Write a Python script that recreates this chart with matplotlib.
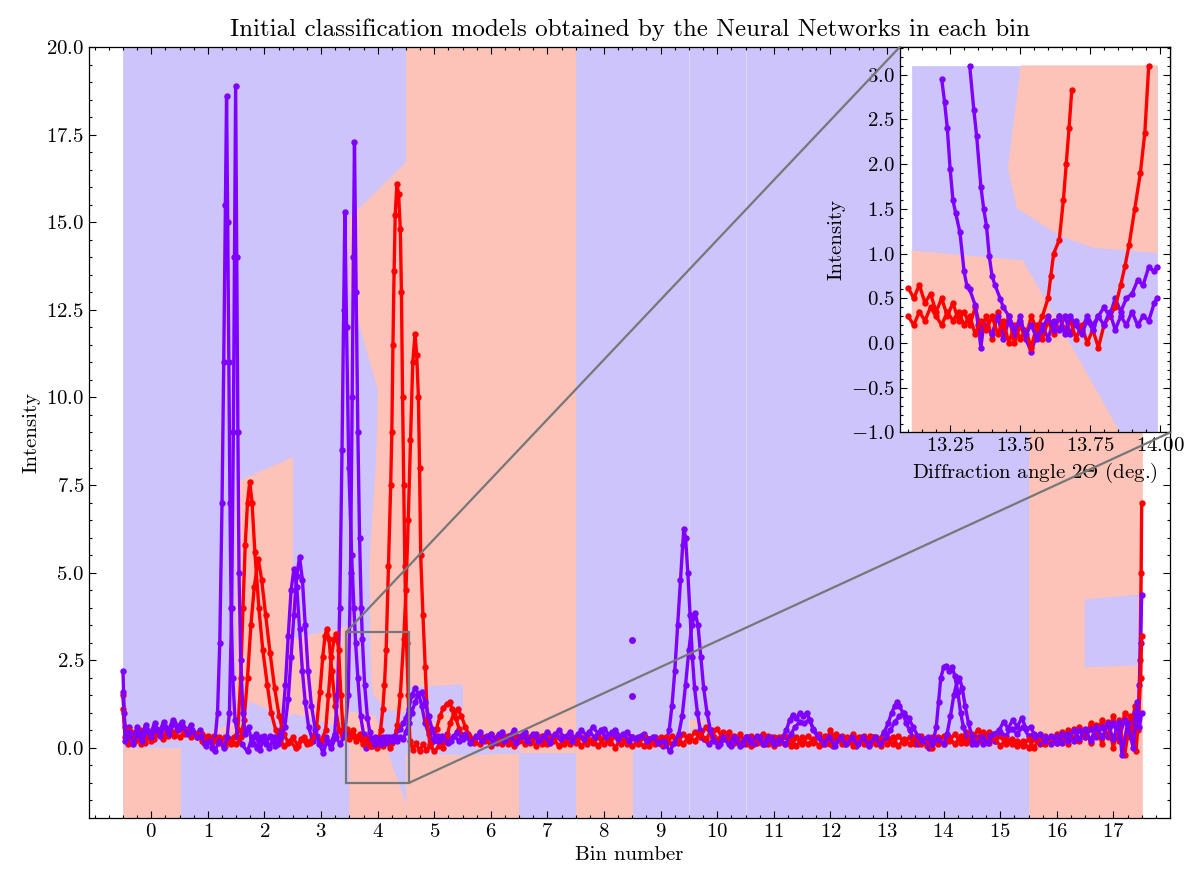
import numpy as np
import matplotlib.pyplot as plt
from matplotlib.patches import Rectangle, ConnectionPatch
from matplotlib.ticker import MultipleLocator, AutoMinorLocator, FixedLocator

plt.rcParams.update({
    'font.family': 'serif',
    'font.serif': ['cmr10'],
    'mathtext.fontset': 'cm',
    'axes.formatter.use_mathtext': True,
    'font.size': 15,
})

BLUE_BG = '#ccc4fb'
SALMON_BG = '#fdc3b9'
RED = '#ff0000'
PURPLE = '#7f00ff'
bg = {'b': BLUE_BG, 's': SALMON_BG}

# classification of each bin (base colour) and the extra regions inside bins
bin_class = ['b', 'b', 'b', 'b', 'b', 's', 's', 's', 'b',
             'b', 'b', 'b', 'b', 'b', 'b', 'b', 's', 's']
regions = [
    ('s', [(-0.5, -2), (-0.5, 0.0), (0.5, 0.0), (0.5, -2)]),
    ('s', [(1.08, 0.45), (1.5, 0.75), (1.7, 0.7), (1.5, 0.45)]),
    ('s', [(1.5, 7.57), (2.5, 8.29), (2.5, 0.94), (2.04, 1.13), (1.68, 1.37), (1.5, 1.45)]),
    ('s', [(2.5, 3.1), (3.5, 3.47), (3.5, 0.55), (2.5, 0.99)]),
    ('s', [(4.5, 16.7), (3.62, 15.3), (3.5, 15.12), (3.5, 13.1), (4.01, 10.2), (3.98, 8.3),
           (3.86, 5.2), (3.89, 1.96), (3.93, 1.51), (4.1, 1.2), (4.24, 1.07), (4.5, 1.01)]),
    ('s', [(3.5, -2), (3.5, 1.03), (3.95, 0.92), (4.5, -1.63), (4.5, -2)]),
    ('b', [(4.5, 1.72), (5.5, 1.8), (5.5, 1.05), (5.1, 1.0), (4.9, 0.5), (4.5, 0.47)]),
    ('b', [(4.5, 0.5), (5.5, 0.35), (5.5, -0.2), (4.5, -0.15)]),
    ('b', [(5.5, 0.3), (6.5, 0.3), (6.5, -0.15), (5.5, -0.2)]),
    ('b', [(6.5, -2), (6.5, -0.15), (7.5, -0.15), (7.5, -2)]),
    ('s', [(7.5, -2), (7.5, 0.0), (8.5, 0.0), (8.5, -2)]),
    ('s', [(9.5, 0.5), (9.5, 0.8), (9.8, 0.78)]),
    ('b', [(16.5, 2.31), (16.5, 4.23), (17.5, 4.37), (17.5, 2.37)]),
]

red_a = [(-0.5, 1.5), (-0.47, 0.6), (-0.42, 0.1), (-0.35, 0.45), (-0.28, 0.2), (-0.2, 0.5),
         (-0.12, 0.15), (-0.05, 0.4), (0.05, 0.25), (0.12, 0.5), (0.2, 0.3), (0.3, 0.55),
         (0.4, 0.35), (0.5, 0.6), (0.6, 0.4), (0.7, 0.45), (0.8, 0.3), (0.9, 0.4), (1.0, 0.25),
         (1.1, 0.35), (1.2, 0.15), (1.3, 0.3), (1.4, 0.1), (1.47, 0.3), (1.53, 0.5), (1.58, 2.0),
         (1.62, 4.0), (1.66, 5.8), (1.7, 7.0), (1.74, 7.6), (1.78, 7.0), (1.83, 5.6), (1.9, 4.0),
         (1.97, 2.8), (2.05, 1.8), (2.12, 1.0), (2.2, 0.5), (2.28, 0.2), (2.35, 0.05), (2.45, 0.2),
         (2.55, 0.0), (2.65, 0.25), (2.75, 0.1), (2.85, 0.3), (2.92, 0.6), (2.98, 1.6), (3.03, 2.6),
         (3.07, 3.2), (3.1, 3.4), (3.14, 3.1), (3.19, 2.2), (3.25, 1.2), (3.32, 0.5), (3.38, 0.3),
         (3.45, 0.55), (3.5, 0.4), (3.56, 0.5), (3.62, 0.3), (3.68, 0.4), (3.74, 0.2), (3.8, 0.3),
         (3.86, 0.05), (3.92, 0.25), (3.98, 0.05), (4.03, 0.3), (4.05, 0.5), (4.09, 1.1), (4.12, 1.8),
         (4.15, 2.8), (4.19, 5.2), (4.23, 7.5), (4.25, 9.0), (4.27, 11.5), (4.29, 13.6), (4.31, 15.2),
         (4.34, 16.1), (4.37, 15.8), (4.4, 14.8), (4.42, 13.0), (4.44, 10.0), (4.46, 7.5), (4.48, 5.2),
         (4.51, 3.0), (4.54, 1.5), (4.57, 0.2), (4.62, -0.05), (4.68, 0.15), (4.74, -0.1), (4.8, 0.1),
         (4.86, -0.05), (4.92, 0.05), (4.98, 0.2), (5.04, 0.55), (5.1, 0.9), (5.16, 1.15), (5.22, 1.25),
         (5.27, 1.3), (5.32, 1.1), (5.38, 0.85), (5.44, 0.55), (5.5, 0.35),
         (5.6, 0.3), (5.7, 0.15), (5.8, 0.35), (5.9, 0.2), (6.0, 0.4), (6.1, 0.15), (6.2, 0.3),
         (6.3, 0.1), (6.4, 0.35), (6.5, 0.2), (6.6, 0.4), (6.7, 0.15), (6.8, 0.3), (6.9, 0.1),
         (7.0, 0.35), (7.1, 0.2), (7.2, 0.3), (7.3, 0.1), (7.4, 0.35), (7.5, 0.15), (7.6, 0.3),
         (7.7, 0.1), (7.8, 0.25), (7.9, 0.05), (8.0, 0.3), (8.1, 0.15), (8.2, 0.35), (8.3, 0.1),
         (8.4, 0.25), (8.5, 0.05), (8.6, 0.2), (8.7, 0.05), (8.8, 0.25), (8.9, 0.1), (9.0, 0.3),
         (9.1, 0.1), (9.2, 0.35), (9.3, 0.15), (9.4, 0.4), (9.5, 0.2), (9.6, 0.45), (9.7, 0.3),
         (9.8, 0.6), (9.9, 0.35), (10.0, 0.55), (10.1, 0.25), (10.2, 0.45), (10.3, 0.15), (10.4, 0.4),
         (10.5, 0.1), (10.6, 0.35), (10.7, 0.15), (10.8, 0.4), (10.9, 0.1), (11.0, 0.3), (11.1, 0.15),
         (11.2, 0.35), (11.3, 0.05), (11.4, 0.3), (11.5, 0.1), (11.6, 0.35), (11.7, 0.15), (11.8, 0.4),
         (11.9, 0.1), (12.0, 0.5), (12.1, 0.2), (12.2, 0.35), (12.3, 0.15), (12.4, 0.4), (12.5, 0.2),
         (12.6, 0.35), (12.7, 0.1), (12.8, 0.3), (12.9, 0.05), (13.0, 0.3), (13.1, 0.1), (13.2, 0.35),
         (13.3, 0.15), (13.4, 0.3), (13.5, 0.1), (13.6, 0.35), (13.7, 0.05), (13.8, 0.3), (13.9, 0.1),
         (14.0, 0.35), (14.1, 0.2), (14.2, 0.4), (14.3, 0.15), (14.4, 0.45), (14.5, 0.25), (14.6, 0.5),
         (14.7, 0.3), (14.8, 0.45), (14.9, 0.2), (15.0, 0.35), (15.1, 0.1), (15.2, 0.25), (15.3, 0.05),
         (15.4, 0.2), (15.5, 0.0), (15.6, 0.25), (15.7, 0.1), (15.8, 0.35), (15.9, 0.15), (16.0, 0.4),
         (16.1, 0.2), (16.2, 0.5), (16.3, 0.25), (16.4, 0.6), (16.5, 0.3), (16.6, 0.7), (16.7, 0.35),
         (16.8, 0.8), (16.9, 0.3), (17.0, 0.9), (17.1, 0.2), (17.2, 1.0), (17.3, 0.3), (17.38, 1.2),
         (17.44, 0.5), (17.47, 2.5), (17.49, 5.0), (17.5, 7.0)]

red_b = [(-0.5, 1.1), (-0.46, 0.3), (-0.4, 0.5), (-0.33, 0.2), (-0.25, 0.35), (-0.18, 0.1),
         (-0.1, 0.3), (0.0, 0.2), (0.1, 0.4), (0.2, 0.25), (0.3, 0.35), (0.4, 0.45), (0.5, 0.3),
         (0.6, 0.5), (0.7, 0.3), (0.8, 0.4), (0.9, 0.2), (1.0, 0.35), (1.1, 0.2), (1.2, 0.3),
         (1.3, 0.05), (1.4, 0.25), (1.5, 0.1), (1.58, 0.3), (1.64, 0.8), (1.7, 2.0), (1.76, 3.5),
         (1.82, 4.6), (1.89, 5.4), (1.95, 4.8), (2.02, 3.8), (2.1, 2.7), (2.18, 1.7), (2.26, 0.9),
         (2.34, 0.4), (2.42, 0.15), (2.5, 0.3), (2.6, 0.05), (2.7, 0.3), (2.8, 0.15), (2.9, 0.35),
         (3.0, 0.2), (3.08, 0.5), (3.13, 1.5), (3.18, 2.6), (3.23, 3.1), (3.27, 3.25), (3.31, 2.8),
         (3.35, 1.5), (3.39, 0.5), (3.44, 0.35), (3.5, 0.25), (3.56, 0.35), (3.62, 0.2), (3.68, 0.3),
         (3.74, 0.1), (3.8, 0.25), (3.86, 0.05), (3.92, 0.2), (3.98, 0.0), (4.04, 0.2), (4.1, 0.05),
         (4.16, 0.25), (4.22, 0.0), (4.26, 0.15), (4.3, 0.3), (4.35, 0.65), (4.4, 1.5), (4.46, 3.1),
         (4.5, 4.5), (4.54, 6.5), (4.58, 8.8), (4.62, 11.0), (4.66, 11.8), (4.69, 11.2), (4.72, 10.0),
         (4.74, 8.0), (4.76, 5.5), (4.8, 3.8), (4.84, 2.3), (4.88, 0.8), (4.92, 0.1), (5.0, -0.1),
         (5.08, 0.05), (5.15, 0.0), (5.22, 0.3), (5.28, 0.7), (5.35, 1.0), (5.42, 1.1), (5.48, 0.9),
         (5.55, 0.6), (5.62, 0.35),
         (5.7, 0.2), (5.8, 0.1), (5.9, 0.3), (6.0, 0.05), (6.1, 0.3), (6.2, 0.1), (6.3, 0.35),
         (6.4, 0.05), (6.5, 0.3), (6.6, 0.1), (6.7, 0.3), (6.8, 0.05), (6.9, 0.35), (7.0, 0.1),
         (7.1, 0.3), (7.2, 0.05), (7.3, 0.25), (7.4, 0.1), (7.5, 0.3), (7.6, 0.05), (7.7, 0.25),
         (7.8, 0.15), (7.9, 0.3), (8.0, 0.1), (8.1, 0.25), (8.2, 0.0), (8.3, 0.3), (8.4, 0.1),
         (8.5, 0.3), (8.6, 0.1), (8.7, 0.3), (8.8, 0.05), (8.9, 0.25), (9.0, 0.1), (9.1, 0.3),
         (9.2, 0.1), (9.3, 0.3), (9.4, 0.1), (9.5, 0.35), (9.6, 0.2), (9.7, 0.4), (9.8, 0.25),
         (9.9, 0.5), (10.0, 0.2), (10.1, 0.45), (10.2, 0.2), (10.3, 0.35), (10.4, 0.1), (10.5, 0.3),
         (10.6, 0.05), (10.7, 0.3), (10.8, 0.1), (10.9, 0.35), (11.0, 0.05), (11.1, 0.3), (11.2, 0.1),
         (11.3, 0.25), (11.4, 0.05), (11.5, 0.3), (11.6, 0.1), (11.7, 0.25), (11.8, 0.05), (11.9, 0.35),
         (12.0, 0.1), (12.1, 0.4), (12.2, 0.1), (12.3, 0.3), (12.4, 0.05), (12.5, 0.3), (12.6, 0.1),
         (12.7, 0.35), (12.8, 0.1), (12.9, 0.25), (13.0, 0.1), (13.1, 0.3), (13.2, 0.05), (13.3, 0.25),
         (13.4, 0.1), (13.5, 0.3), (13.6, 0.1), (13.7, 0.25), (13.8, 0.0), (13.9, 0.3), (14.0, 0.1),
         (14.1, 0.3), (14.2, 0.1), (14.3, 0.35), (14.4, 0.15), (14.5, 0.4), (14.6, 0.2), (14.7, 0.45),
         (14.8, 0.15), (14.9, 0.3), (15.0, 0.05), (15.1, 0.25), (15.2, 0.1), (15.3, 0.2), (15.4, 0.05),
         (15.5, 0.25), (15.6, 0.0), (15.7, 0.3), (15.8, 0.1), (15.9, 0.3), (16.0, 0.15), (16.1, 0.45),
         (16.2, 0.1), (16.3, 0.55), (16.4, 0.2), (16.5, 0.5), (16.6, 0.15), (16.7, 0.65), (16.8, 0.1),
         (16.9, 0.75), (17.0, 0.0), (17.1, 0.8), (17.2, -0.2), (17.3, 0.9), (17.4, -0.1), (17.45, 1.0),
         (17.48, 2.0), (17.5, 3.2)]

purple_a = [(-0.5, 2.2), (-0.48, 1.0), (-0.45, 0.3), (-0.4, 0.6), (-0.33, 0.25), (-0.25, 0.6),
            (-0.18, 0.35), (-0.1, 0.65), (-0.02, 0.4), (0.06, 0.7), (0.14, 0.45), (0.22, 0.75),
            (0.3, 0.5), (0.38, 0.8), (0.46, 0.6), (0.54, 0.75), (0.62, 0.5), (0.7, 0.65), (0.78, 0.4),
            (0.86, 0.5), (0.94, 0.15), (1.02, 0.3), (1.08, 0.0), (1.13, 0.3), (1.17, 1.0), (1.21, 3.0),
            (1.25, 7.0), (1.28, 11.0), (1.31, 15.5), (1.33, 18.6), (1.35, 15.0), (1.37, 11.0),
            (1.39, 7.0), (1.41, 4.0), (1.44, 2.0), (1.48, 0.8), (1.53, 0.3), (1.6, 0.1), (1.7, -0.1),
            (1.78, 0.3), (1.86, 0.0), (1.94, 0.3), (2.02, 0.1), (2.1, 0.35), (2.18, 0.05), (2.26, 0.3),
            (2.32, 0.8), (2.37, 1.8), (2.42, 3.2), (2.47, 4.5), (2.52, 5.1), (2.57, 4.6), (2.62, 3.4),
            (2.67, 2.2), (2.72, 1.3), (2.78, 0.6), (2.85, 0.2), (2.92, 0.35), (3.0, 0.1), (3.08, 0.3),
            (3.16, 0.1), (3.24, 0.4), (3.29, 1.5), (3.33, 4.0), (3.37, 8.5), (3.4, 12.5), (3.42, 15.3),
            (3.45, 12.0), (3.49, 8.0), (3.54, 5.5), (3.58, 4.0), (3.61, 3.0), (3.65, 2.0), (3.7, 0.9),
            (3.75, 0.4), (3.79, 0.0), (3.85, 0.25), (3.9, 0.05), (3.95, 0.3), (4.0, 0.1), (4.05, 0.25),
            (4.1, 0.15), (4.15, 0.3), (4.2, 0.2), (4.25, 0.3), (4.3, 0.35), (4.35, 0.5), (4.4, 0.55),
            (4.45, 0.7), (4.5, 0.85), (4.55, 1.1), (4.6, 1.5), (4.66, 1.7), (4.72, 1.55), (4.78, 1.2),
            (4.84, 0.7), (4.9, 0.4), (4.98, 0.2), (5.06, 0.35), (5.14, 0.15),
            (5.22, 0.4), (5.3, 0.2), (5.4, 0.45), (5.5, 0.25), (5.6, 0.4), (5.7, 0.2), (5.8, 0.45),
            (5.9, 0.25), (6.0, 0.4), (6.1, 0.2), (6.2, 0.45), (6.3, 0.25), (6.4, 0.5), (6.5, 0.3),
            (6.6, 0.45), (6.7, 0.2), (6.8, 0.4), (6.9, 0.25), (7.0, 0.45), (7.1, 0.3), (7.2, 0.5),
            (7.3, 0.3), (7.4, 0.45), (7.5, 0.25), (7.6, 0.5), (7.7, 0.35), (7.8, 0.6), (7.9, 0.4),
            (8.0, 0.55), (8.1, 0.35), (8.2, 0.5), (8.3, 0.3), (8.4, 0.45), (8.49, 0.3), (8.6, 0.3),
            (8.7, 0.4), (8.8, 0.25), (8.9, 0.3), (9.0, 0.15), (9.05, 0.05), (9.1, 0.2), (9.15, 0.5),
            (9.2, 1.2), (9.25, 2.2), (9.3, 3.5), (9.35, 4.8), (9.39, 5.8), (9.41, 6.25), (9.44, 6.0),
            (9.48, 5.0), (9.52, 3.8), (9.56, 2.6), (9.6, 1.7), (9.65, 1.0), (9.7, 0.5), (9.76, 0.25),
            (9.85, 0.1), (9.95, 0.3), (10.05, 0.1), (10.15, 0.3), (10.25, 0.05), (10.35, 0.25),
            (10.45, 0.1), (10.55, 0.3), (10.65, 0.1), (10.75, 0.3), (10.85, 0.1), (10.95, 0.3),
            (11.05, 0.15), (11.15, 0.3), (11.22, 0.5), (11.28, 0.8), (11.34, 0.95), (11.4, 0.85),
            (11.46, 1.0), (11.52, 0.9), (11.58, 1.0), (11.64, 0.8), (11.7, 0.5), (11.78, 0.3),
            (11.86, 0.1), (11.95, 0.3), (12.05, 0.05), (12.15, 0.3), (12.25, 0.1), (12.35, 0.25),
            (12.45, 0.05), (12.55, 0.3), (12.65, 0.1), (12.75, 0.3), (12.85, 0.2), (12.95, 0.45),
            (13.02, 0.7), (13.08, 1.0), (13.14, 1.2), (13.18, 1.3), (13.22, 1.2), (13.28, 1.0),
            (13.34, 0.7), (13.4, 0.5), (13.46, 0.3), (13.55, 0.1), (13.65, 0.25), (13.75, 0.0),
            (13.82, 0.2), (13.87, 0.6), (13.91, 1.3), (13.95, 2.0), (14.0, 2.3), (14.05, 2.35),
            (14.1, 2.2), (14.15, 2.3), (14.2, 2.05), (14.25, 1.6), (14.3, 1.0), (14.35, 0.6),
            (14.42, 0.3), (14.5, 0.1), (14.6, 0.3), (14.7, 0.1), (14.8, 0.35), (14.9, 0.2),
            (15.0, 0.45), (15.1, 0.35), (15.2, 0.55), (15.3, 0.4), (15.4, 0.6), (15.5, 0.35),
            (15.6, 0.4), (15.7, 0.15), (15.8, 0.3), (15.9, 0.1), (16.0, 0.35), (16.1, 0.15),
            (16.2, 0.4), (16.3, 0.2), (16.4, 0.5), (16.5, 0.3), (16.6, 0.55), (16.7, 0.3), (16.8, 0.6),
            (16.9, 0.35), (17.0, 0.7), (17.1, 0.3), (17.2, 0.8), (17.3, 0.4), (17.38, 1.0),
            (17.43, 0.6), (17.46, 1.8), (17.48, 3.0), (17.5, 4.35)]

purple_b = [(-0.5, 1.6), (-0.46, 0.2), (-0.4, 0.45), (-0.32, 0.1), (-0.24, 0.4), (-0.16, 0.2),
            (-0.08, 0.5), (0.0, 0.3), (0.08, 0.55), (0.16, 0.35), (0.24, 0.6), (0.32, 0.4),
            (0.4, 0.7), (0.48, 0.5), (0.56, 0.6), (0.64, 0.4), (0.72, 0.5), (0.8, 0.3), (0.88, 0.35),
            (0.96, 0.05), (1.04, 0.2), (1.12, -0.1), (1.2, 0.2), (1.28, 0.0), (1.34, 0.3), (1.38, 1.0),
            (1.42, 4.0), (1.45, 9.0), (1.47, 14.0), (1.49, 18.9), (1.51, 14.0), (1.53, 9.0),
            (1.55, 5.0), (1.58, 2.5), (1.62, 1.0), (1.66, 0.4), (1.72, 0.6), (1.78, 0.1), (1.85, 0.4),
            (1.92, -0.05), (2.0, 0.35), (2.08, 0.0), (2.16, 0.3), (2.24, 0.1), (2.3, 0.3), (2.36, 0.6),
            (2.42, 1.4), (2.47, 2.6), (2.52, 3.8), (2.57, 4.9), (2.62, 5.45), (2.67, 4.8), (2.72, 3.5),
            (2.77, 2.2), (2.83, 1.2), (2.9, 0.5), (2.97, 0.1), (3.04, -0.15), (3.1, 0.2), (3.18, 0.0),
            (3.26, 0.3), (3.34, 0.1), (3.42, 0.4), (3.48, 1.5), (3.52, 5.0), (3.55, 10.0), (3.57, 14.0),
            (3.59, 17.3), (3.62, 13.0), (3.65, 9.0), (3.68, 6.0), (3.71, 4.0), (3.73, 3.1), (3.77, 1.8),
            (3.82, 0.85), (3.86, 0.45), (3.9, 0.25), (3.95, 0.1), (4.0, 0.25), (4.05, 0.1), (4.1, 0.3),
            (4.15, 0.15), (4.2, 0.3), (4.25, 0.2), (4.3, 0.35), (4.35, 0.2), (4.4, 0.3), (4.45, 0.25),
            (4.5, 0.45), (4.55, 0.7), (4.6, 1.0), (4.66, 1.3), (4.72, 1.55), (4.78, 1.6), (4.84, 1.3),
            (4.9, 0.9), (4.96, 0.55), (5.02, 0.3), (5.06, 0.2),
            (5.14, 0.35), (5.24, 0.15), (5.34, 0.35), (5.44, 0.2), (5.54, 0.4), (5.64, 0.15),
            (5.74, 0.35), (5.84, 0.2), (5.94, 0.35), (6.04, 0.15), (6.14, 0.4), (6.24, 0.2),
            (6.34, 0.35), (6.44, 0.15), (6.54, 0.35), (6.64, 0.2), (6.74, 0.4), (6.84, 0.2),
            (6.94, 0.35), (7.04, 0.15), (7.14, 0.4), (7.24, 0.25), (7.34, 0.35), (7.44, 0.2),
            (7.54, 0.4), (7.64, 0.25), (7.74, 0.45), (7.84, 0.3), (7.94, 0.5), (8.04, 0.3),
            (8.14, 0.45), (8.24, 0.25), (8.34, 0.4), (8.44, 0.2), (8.49, 0.3), (8.56, 0.25),
            (8.66, 0.35), (8.76, 0.2), (8.86, 0.3), (8.96, 0.15), (9.06, 0.2), (9.16, -0.1),
            (9.24, 0.15), (9.32, 0.4), (9.38, 0.9), (9.44, 1.8), (9.5, 2.8), (9.55, 3.5), (9.61, 3.85),
            (9.66, 3.5), (9.71, 2.6), (9.76, 1.7), (9.82, 1.0), (9.88, 0.5), (9.95, 0.2), (10.02, 0.05),
            (10.1, 0.3), (10.2, 0.1), (10.3, 0.3), (10.4, 0.05), (10.5, 0.3), (10.6, 0.15), (10.7, 0.35),
            (10.8, 0.1), (10.9, 0.3), (11.0, 0.1), (11.1, 0.25), (11.2, 0.1), (11.3, 0.4), (11.38, 0.6),
            (11.46, 0.75), (11.54, 0.7), (11.62, 0.8), (11.7, 0.55), (11.78, 0.35), (11.88, 0.15),
            (11.98, 0.3), (12.08, 0.05), (12.18, 0.3), (12.28, 0.1), (12.38, 0.3), (12.48, 0.1),
            (12.58, 0.3), (12.68, 0.05), (12.78, 0.3), (12.88, 0.1), (12.98, 0.3), (13.06, 0.5),
            (13.14, 0.75), (13.22, 0.9), (13.3, 1.0), (13.38, 0.85), (13.46, 0.6), (13.54, 0.35),
            (13.62, 0.2), (13.72, 0.3), (13.8, 0.1), (13.9, 0.25), (14.0, 0.1), (14.06, 0.4),
            (14.12, 0.9), (14.18, 1.5), (14.24, 1.9), (14.28, 2.0), (14.33, 1.7), (14.38, 1.2),
            (14.44, 0.7), (14.5, 0.35), (14.58, 0.1), (14.68, 0.3), (14.78, 0.15), (14.88, 0.4),
            (14.98, 0.5), (15.06, 0.75), (15.14, 0.55), (15.22, 0.8), (15.3, 0.6), (15.38, 0.85),
            (15.46, 0.55), (15.54, 0.6), (15.62, 0.3), (15.7, 0.4), (15.8, 0.2), (15.9, 0.35),
            (16.0, 0.15), (16.1, 0.4), (16.2, 0.2), (16.3, 0.5), (16.4, 0.25), (16.5, 0.55), (16.6, 0.2),
            (16.7, 0.6), (16.8, 0.3), (16.9, 0.7), (17.0, 0.25), (17.1, 0.75), (17.15, -0.2),
            (17.25, 0.7), (17.35, 0.0), (17.42, 1.3), (17.46, 0.6), (17.5, 1.0)]

# first points of bin 9 that stand apart
purple_start_bin9 = [(8.5, 3.08), (8.5, 1.48)]

# zoomed region (main axes coordinates)
zoom_x = (3.44, 4.55)
zoom_y = (-1.0, 3.3)

# inset: diffraction angle vs intensity
inset_box = [(13.114, -1.0), (13.114, 3.1), (13.99, 3.1), (13.99, -1.0)]
inset_regions = [
    ('s', [(13.504, 3.1), (13.458, 1.96), (13.49, 1.51), (13.643, 1.2), (13.762, 1.07),
           (13.99, 1.01), (13.99, 3.1)]),
    ('s', [(13.114, 1.03), (13.51, 0.92), (13.857, -1.0), (13.114, -1.0)]),
]
ins_red_a = [(13.1, 0.62), (13.12, 0.5), (13.14, 0.65), (13.16, 0.45), (13.18, 0.55), (13.2, 0.35),
             (13.22, 0.5), (13.24, 0.3), (13.26, 0.45), (13.28, 0.25), (13.3, 0.35), (13.32, 0.2),
             (13.34, 0.4), (13.36, 0.15), (13.38, 0.3), (13.4, 0.05), (13.42, 0.35), (13.44, 0.1),
             (13.46, 0.3), (13.48, 0.0), (13.5, 0.2), (13.52, 0.05), (13.54, 0.3), (13.56, 0.15),
             (13.58, 0.3), (13.6, 0.5), (13.61, 0.75), (13.62, 1.0), (13.64, 1.15), (13.655, 1.6),
             (13.665, 2.0), (13.675, 2.4), (13.685, 2.83)]
ins_red_b = [(13.1, 0.3), (13.12, 0.2), (13.14, 0.35), (13.16, 0.25), (13.18, 0.4), (13.2, 0.3),
             (13.22, 0.2), (13.24, 0.35), (13.26, 0.25), (13.28, 0.35), (13.3, 0.2), (13.32, 0.3),
             (13.34, 0.1), (13.36, 0.25), (13.38, 0.15), (13.4, 0.3), (13.42, 0.1), (13.44, 0.25),
             (13.46, 0.0), (13.48, 0.2), (13.5, 0.05), (13.52, 0.15), (13.54, -0.05), (13.56, 0.2),
             (13.58, 0.05), (13.6, 0.25), (13.62, 0.1), (13.64, 0.3), (13.66, 0.15), (13.68, 0.25),
             (13.7, 0.05), (13.72, 0.2), (13.74, 0.0), (13.76, 0.15), (13.78, -0.05), (13.8, 0.2),
             (13.82, 0.3), (13.84, 0.4), (13.86, 0.65), (13.875, 0.86), (13.89, 1.1), (13.91, 1.5),
             (13.93, 1.9), (13.946, 2.35), (13.96, 3.1)]
ins_purple_a = [(13.22, 2.95), (13.23, 2.7), (13.24, 2.4), (13.25, 1.95), (13.26, 1.6), (13.27, 1.45),
                (13.285, 1.24), (13.3, 0.8), (13.31, 0.64), (13.32, 0.6), (13.34, 0.42), (13.35, 0.2),
                (13.36, -0.05), (13.37, 0.2), (13.4, 0.1), (13.42, 0.3), (13.44, 0.05), (13.46, 0.25),
                (13.48, 0.1), (13.5, 0.3), (13.52, 0.05), (13.54, -0.1), (13.56, 0.1), (13.58, 0.2),
                (13.6, 0.05), (13.62, 0.25), (13.64, 0.15), (13.66, 0.3), (13.68, 0.1), (13.7, 0.25),
                (13.72, 0.15), (13.74, 0.3), (13.76, 0.2), (13.78, 0.3), (13.8, 0.4), (13.82, 0.3),
                (13.84, 0.5), (13.86, 0.35), (13.88, 0.5), (13.9, 0.55), (13.92, 0.7), (13.94, 0.65),
                (13.96, 0.85), (13.98, 0.8), (13.99, 0.85)]
ins_purple_b = [(13.32, 3.1), (13.335, 2.6), (13.345, 2.31), (13.36, 1.75), (13.37, 1.5), (13.38, 1.31),
                (13.39, 0.97), (13.4, 0.75), (13.41, 0.65), (13.43, 0.49), (13.44, 0.4), (13.46, 0.3),
                (13.48, 0.15), (13.5, 0.25), (13.52, 0.1), (13.54, 0.2), (13.56, 0.05), (13.58, 0.15),
                (13.6, 0.3), (13.62, 0.15), (13.64, 0.3), (13.66, 0.1), (13.68, 0.3), (13.7, 0.2),
                (13.72, 0.1), (13.74, 0.25), (13.76, 0.15), (13.78, 0.3), (13.8, 0.2), (13.82, 0.35),
                (13.84, 0.15), (13.86, 0.3), (13.88, 0.2), (13.9, 0.35), (13.92, 0.2), (13.94, 0.3),
                (13.96, 0.25), (13.98, 0.45), (13.99, 0.5)]


def style_axes(a, ymaj, ymin_n):
    a.yaxis.set_major_locator(MultipleLocator(ymaj))
    a.yaxis.set_minor_locator(AutoMinorLocator(ymin_n))
    a.tick_params(which='both', direction='in', top=True, right=True, width=0.8)
    a.tick_params(which='major', length=5)
    a.tick_params(which='minor', length=2.5)
    for s in a.spines.values():
        s.set_linewidth(0.9)


def draw_series(a, pts, col):
    arr = np.array(pts)
    a.plot(arr[:, 0], arr[:, 1], color=col, lw=2.4, marker='o', ms=4.6, mew=0,
           solid_joinstyle='round', solid_capstyle='round', zorder=2)


fig = plt.figure(figsize=(12, 8.85), dpi=100)
ax = fig.add_axes([0.0742, 0.0757, 0.9008, 0.8712])

for i, c in enumerate(bin_class):
    ax.axvspan(i - 0.5, i + 0.5, facecolor=bg[c], edgecolor=bg[c], lw=0.5, zorder=0)
for c, verts in regions:
    v = np.array(verts)
    ax.fill(v[:, 0], v[:, 1], facecolor=bg[c], edgecolor=bg[c], lw=0.5, zorder=0.5)
for xs in [9.5, 10.5]:
    ax.axvline(xs, color='#dcd7fd', lw=0.8, zorder=0.6)

draw_series(ax, red_a, RED)
draw_series(ax, purple_a, PURPLE)
draw_series(ax, red_b, RED)
draw_series(ax, purple_b, PURPLE)
ps = np.array(purple_start_bin9)
ax.plot(ps[:, 0], ps[:, 1], 'o', color=PURPLE, ms=5, mew=0, zorder=2)

ax.add_patch(Rectangle((zoom_x[0], zoom_y[0]), zoom_x[1] - zoom_x[0], zoom_y[1] - zoom_y[0],
                       fill=False, ec='#777777', lw=1.6, zorder=4))

ax.set_xlim(-1.1, 18.0)
ax.set_ylim(-2.0, 20.0)
ax.xaxis.set_major_locator(FixedLocator(list(range(18))))
ax.xaxis.set_minor_locator(MultipleLocator(0.25))
style_axes(ax, 2.5, 5)
ax.set_xlabel('Bin number')
ax.set_ylabel('Intensity')
ax.set_title('Initial classification models obtained by the Neural Networks in each bin', pad=8)

# inset
axins = ax.inset_axes([0.75, 0.5, 0.25, 0.5])
axins.set_facecolor('white')
b = np.array(inset_box)
axins.fill(b[:, 0], b[:, 1], facecolor=BLUE_BG, edgecolor=BLUE_BG, lw=0.5, zorder=0)
for c, verts in inset_regions:
    v = np.array(verts)
    axins.fill(v[:, 0], v[:, 1], facecolor=bg[c], edgecolor=bg[c], lw=0.5, zorder=0.5)
draw_series(axins, ins_red_a, RED)
draw_series(axins, ins_purple_a, PURPLE)
draw_series(axins, ins_red_b, RED)
draw_series(axins, ins_purple_b, PURPLE)
axins.set_xlim(13.07, 14.036)
axins.set_ylim(-1.0, 3.31)
axins.xaxis.set_major_locator(MultipleLocator(0.25))
axins.xaxis.set_minor_locator(AutoMinorLocator(5))
style_axes(axins, 0.5, 5)
axins.set_xlabel(r'Diffraction angle $2\Theta$ (deg.)')
axins.set_ylabel('Intensity')

# lines joining the zoom box to the inset
for xy_main, xy_ins in [((zoom_x[0], zoom_y[1]), (0, 1)), ((zoom_x[1], zoom_y[0]), (1, 0))]:
    con = ConnectionPatch(xyA=xy_main, coordsA=ax.transData, xyB=xy_ins, coordsB=axins.transAxes,
                          color='#777777', lw=1.6)
    fig.add_artist(con)

fig.savefig('out.png', dpi=100)
